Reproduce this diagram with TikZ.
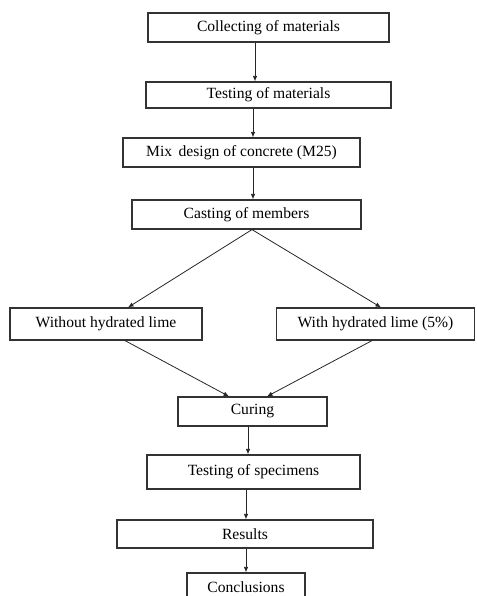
\documentclass[tikz,border=0pt]{standalone}
\usepackage{fontspec}
\setmainfont{Liberation Serif}
\usetikzlibrary{arrows.meta}
\begin{document}
\begin{tikzpicture}[x=1pt,y=-1pt,
  box/.style={draw=black!80,line width=1.2pt,rectangle,inner sep=0pt,font=\fontsize{15.6}{18}\selectfont,text=black},
  arr/.style={draw=black!85,line width=0.8pt,-{Latex[length=5.5pt,width=4.5pt]}},
  ln/.style={draw=black!85,line width=0.8pt}]
\useasboundingbox (0,0) rectangle (476,596);
\node[box,minimum width=241pt,minimum height=29pt] (b1) at (268.5,27.5) {Collecting of materials};
\node[box,minimum width=245pt,minimum height=26pt] (b2) at (268.5,95) {Testing of materials};
\node[box,minimum width=237pt,minimum height=29pt] (b3) at (241.5,152.5) {Mix\, design of concrete (M25)};
\node[box,minimum width=229pt,minimum height=29pt] (b4) at (246.5,214.5) {Casting of members};
\node[box,minimum width=192pt,minimum height=32pt] (b5) at (106,324) {Without hydrated lime};
\node[box,minimum width=198pt,minimum height=32pt] (b6) at (375.5,324) {With hydrated lime (5\%)};
\node[box,minimum width=149pt,minimum height=29pt] (b7) at (252.5,411.5) {Curing};
\node[box,minimum width=213pt,minimum height=34pt] (b8) at (253.5,472) {Testing of specimens};
\node[box,minimum width=256pt,minimum height=28pt] (b9) at (245,534) {Results};
\node[box,minimum width=118pt,minimum height=28pt] (b10) at (246,587) {Conclusions};
\draw[arr] ([xshift=-13.5pt]b1.south) -- ([xshift=-13.5pt]b1.south |- b2.north);
\draw[arr] ([xshift=-15.5pt]b2.south) -- ([xshift=-15.5pt]b2.south |- b3.north);
\draw[arr] ([xshift=11.5pt]b3.south) -- ([xshift=11.5pt]b3.south |- b4.north);
\draw[arr] ([xshift=5.5pt]b4.south) -- ([xshift=22pt]b5.north);
\draw[arr] ([xshift=5.5pt]b4.south) -- ([xshift=5.5pt]b6.north);
\draw[arr] ([xshift=19pt]b5.south) -- ([xshift=-23.5pt]b7.north);
\draw[arr] ([xshift=-3.5pt]b6.south) -- ([xshift=14.5pt]b7.north);
\draw[arr] ([xshift=-4.5pt]b7.south) -- ([xshift=-4.5pt]b7.south |- b8.north);
\draw[arr] ([xshift=-7.5pt]b8.south) -- ([xshift=-7.5pt]b8.south |- b9.north);
\draw[arr] ([xshift=1pt]b9.south) -- ([xshift=1pt]b9.south |- b10.north);
\end{tikzpicture}
\end{document}
